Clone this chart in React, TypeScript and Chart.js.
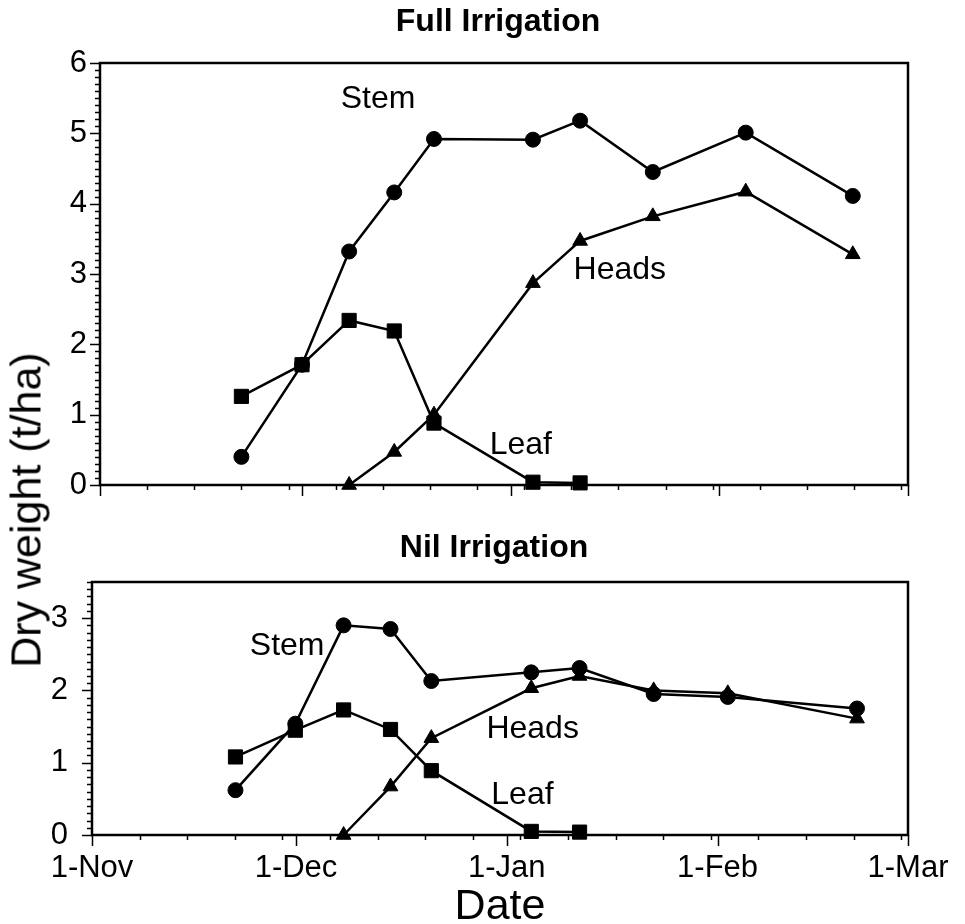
import React, { useEffect, useRef } from 'react';
import { Chart, registerables } from 'chart.js';

Chart.register(...registerables);

const FONT = "'Liberation Sans', Arial, Helvetica, sans-serif";
Chart.defaults.font.family = FONT;
Chart.defaults.color = '#000';

// x axis: days after 1-Nov
const monthTickDays = [0, 30, 61, 92, 120];
const monthTickLabels = ['1-Nov', '1-Dec', '1-Jan', '1-Feb', '1-Mar'];
const yTicksFull = [0, 1, 2, 3, 4, 5, 6];
const yTicksNil = [0, 1, 2, 3];

// Full irrigation panel
const fullDays = [21, 30, 37, 43.7, 49.6, 64.3, 71.3, 82.1, 95.9, 111.8];
const fullStem = [0.40, 1.71, 3.32, 4.16, 4.92, 4.91, 5.18, 4.45, 5.01, 4.11];
const fullLeaf = [1.26, 1.71, 2.34, 2.19, 0.88, 0.04, 0.03];
const fullHeads = [null, null, 0, 0.47, 1.0, 2.87, 3.47, 3.82, 4.17, 3.28];
const fullLabels = [
  { text: 'Stem', day: 41.3, value: 5.49 },
  { text: 'Heads', day: 77.2, value: 3.06 },
  { text: 'Leaf', day: 62.5, value: 0.57 },
];

// Nil irrigation panel
const nilDays = [21.1, 29.9, 37.0, 43.9, 49.9, 64.6, 71.7, 82.6, 93.5, 112.5];
const nilStem = [0.62, 1.54, 2.90, 2.85, 2.13, 2.25, 2.31, 1.95, 1.91, 1.75];
const nilLeaf = [1.08, 1.45, 1.73, 1.46, 0.89, 0.05, 0.04];
const nilHeads = [null, null, 0, 0.67, 1.34, 2.03, 2.20, 2.00, 1.96, 1.61];
const nilLabels = [
  { text: 'Stem', day: 28.7, value: 2.61 },
  { text: 'Heads', day: 64.8, value: 1.47 },
  { text: 'Leaf', day: 63.3, value: 0.55 },
];

const toPoints = (days: number[], vals: (number | null)[]) =>
  vals
    .map((v, i) => (v === null ? null : { x: days[i], y: v }))
    .filter((p) => p !== null);

const framePlugin = {
  id: 'frameTicks',
  afterDatasetsDraw(chart: any, _args: any, opts: any) {
    const { ctx, chartArea: a } = chart;
    const x = chart.scales.x;
    const y = chart.scales.y;
    ctx.save();
    ctx.fillStyle = '#000';
    ctx.textAlign = 'center';
    ctx.textBaseline = 'middle';
    // panel title, centred over the plot area
    ctx.font = `bold 32px ${FONT}`;
    ctx.fillText(opts.title, (a.left + a.right) / 2 - 6, opts.titleY);
    // curve labels
    ctx.font = `32px ${FONT}`;
    for (const l of opts.labels || []) {
      ctx.fillText(l.text, x.getPixelForValue(l.day), y.getPixelForValue(l.value));
    }
    ctx.restore();
  },
  afterDraw(chart: any, _args: any, opts: any) {
    const { ctx, chartArea: a } = chart;
    const x = chart.scales.x;
    const y = chart.scales.y;
    ctx.save();
    ctx.strokeStyle = '#000';
    ctx.lineWidth = 1.5;
    ctx.beginPath();
    // x ticks: weekly minor, monthly major
    for (let d = 7; d < 120; d += 7) {
      const px = Math.round(x.getPixelForValue(d)) + 0.5;
      ctx.moveTo(px, a.bottom);
      ctx.lineTo(px, a.bottom + 5);
    }
    for (const d of monthTickDays) {
      const px = Math.round(x.getPixelForValue(d)) + 0.5;
      ctx.moveTo(px, a.bottom);
      ctx.lineTo(px, a.bottom + 11);
    }
    // y ticks: minor every 0.1, major every 1
    const n = Math.round(opts.yMax * 10);
    for (let i = 0; i <= n; i++) {
      const py = Math.round(y.getPixelForValue(i / 10)) + 0.5;
      const len = i % 10 === 0 ? 10 : 5;
      ctx.moveTo(a.left, py);
      ctx.lineTo(a.left - len, py);
    }
    ctx.stroke();
    ctx.lineWidth = 2.5;
    ctx.strokeRect(a.left, a.top, a.right - a.left, a.bottom - a.top);
    ctx.restore();
  },
};

function makeConfig(p: any): any {
  const common = {
    borderColor: '#000',
    backgroundColor: '#000',
    borderWidth: 2.5,
    pointBackgroundColor: '#000',
    pointBorderColor: '#000',
    pointBorderWidth: 1,
    clip: false,
    tension: 0,
  };
  return {
    type: 'line',
    data: {
      datasets: [
        { ...common, label: 'Stem', data: toPoints(p.days, p.stem), pointStyle: 'circle', pointRadius: 7.5, pointHoverRadius: 7.5 },
        { ...common, label: 'Leaf', data: toPoints(p.days, p.leaf), pointStyle: 'rect', pointRadius: 10, pointHoverRadius: 10 },
        { ...common, label: 'Heads', data: toPoints(p.days, p.heads), pointStyle: 'triangle', pointRadius: 8.5, pointHoverRadius: 8.5 },
      ],
    },
    plugins: [framePlugin],
    options: {
      responsive: false,
      animation: false,
      devicePixelRatio: 1,
      events: [],
      layout: { padding: { left: 0, right: 57, top: p.padTop, bottom: 0 } },
      plugins: {
        legend: { display: false },
        tooltip: { enabled: false },
        title: { display: false },
        frameTicks: { labels: p.labels, yMax: p.yMax, title: p.title, titleY: p.titleY },
      },
      scales: {
        x: {
          type: 'linear',
          min: 0,
          max: 120,
          afterBuildTicks: (s: any) => {
            s.ticks = monthTickDays.map((v) => ({ value: v }));
          },
          ticks: {
            display: p.showX,
            autoSkip: false,
            maxRotation: 0,
            color: '#000',
            font: { family: FONT, size: 31 },
            padding: 15,
            callback: (v: number) => monthTickLabels[monthTickDays.indexOf(v)],
          },
          grid: { display: false, drawTicks: false },
          border: { display: false },
          title: {
            display: p.showX,
            text: 'Date',
            color: '#000',
            font: { family: FONT, size: 43, lineHeight: 0.8 },
            padding: 0,
          },
          afterFit: (s: any) => {
            s.height = p.xHeight;
          },
        },
        y: {
          type: 'linear',
          min: 0,
          max: p.yMax,
          afterBuildTicks: (s: any) => {
            s.ticks = p.yTicks.map((v: number) => ({ value: v }));
          },
          ticks: {
            color: '#000',
            font: { family: FONT, size: 31 },
            padding: p.yPad,
          },
          grid: { display: false, drawTicks: false },
          border: { display: false },
          afterFit: (s: any) => {
            s.width = p.yWidth;
          },
        },
      },
    },
  };
}

export default function App() {
  const refA = useRef<HTMLCanvasElement>(null);
  const refB = useRef<HTMLCanvasElement>(null);

  useEffect(() => {
    const a = new Chart(
      refA.current as HTMLCanvasElement,
      makeConfig({
        title: 'Full Irrigation',
        titleY: 22,
        days: fullDays,
        stem: fullStem,
        leaf: fullLeaf,
        heads: fullHeads,
        labels: fullLabels,
        yMax: 6,
        yTicks: yTicksFull,
        padTop: 63,
        yWidth: 100,
        yPad: 13,
        xHeight: 45,
        showX: false,
      })
    );
    const b = new Chart(
      refB.current as HTMLCanvasElement,
      makeConfig({
        title: 'Nil Irrigation',
        titleY: 18,
        days: nilDays,
        stem: nilStem,
        leaf: nilLeaf,
        heads: nilHeads,
        labels: nilLabels,
        yMax: 3.5,
        yTicks: yTicksNil,
        padTop: 52,
        yWidth: 92,
        yPad: 24,
        xHeight: 89,
        showX: true,
      })
    );
    return () => {
      a.destroy();
      b.destroy();
    };
  }, []);

  return (
    <div
      style={{
        position: 'absolute',
        left: 0,
        top: 0,
        width: 965,
        height: 924,
        background: '#fff',
        overflow: 'hidden',
      }}
    >
      <canvas
        ref={refA}
        width={965}
        height={530}
        style={{ position: 'absolute', left: 0, top: 0, width: 965, height: 530 }}
      />
      <canvas
        ref={refB}
        width={965}
        height={394}
        style={{ position: 'absolute', left: 0, top: 530, width: 965, height: 394 }}
      />
      <div
        style={{
          position: 'absolute',
          left: 26,
          top: 510,
          transform: 'translate(-50%, -50%) rotate(-90deg)',
          fontFamily: FONT,
          fontSize: 43,
          lineHeight: 1,
          whiteSpace: 'nowrap',
          color: '#000',
        }}
      >
        Dry weight (t/ha)
      </div>
    </div>
  );
}
